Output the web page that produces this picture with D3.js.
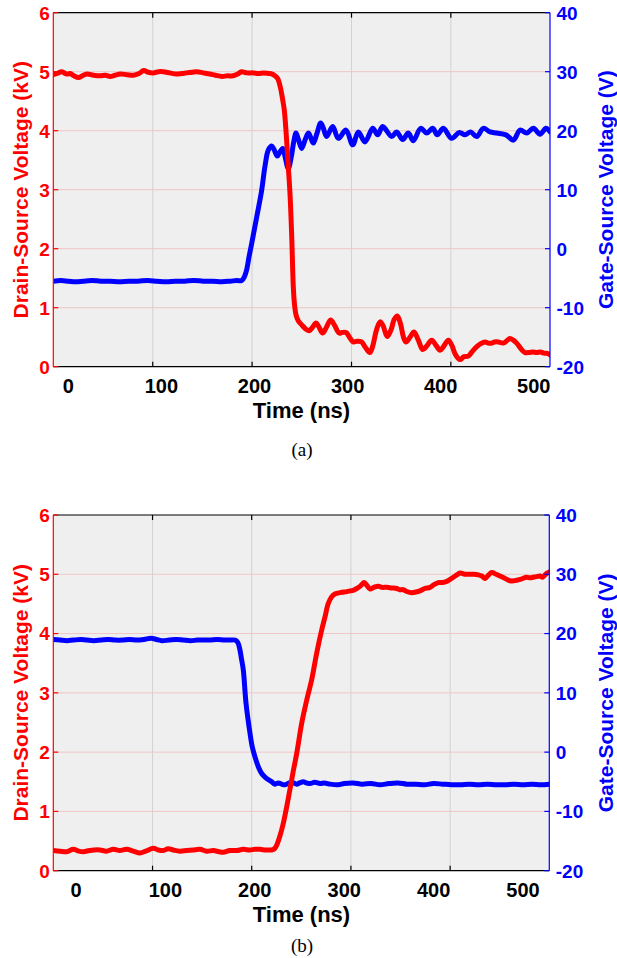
<!DOCTYPE html>
<html>
  <head>
    <meta charset="utf-8">
    <title>switching waveforms</title>
    <script src="https://cdn.jsdelivr.net/npm/d3@7"></script>
    <style>
body { margin: 0; background: #fff; }
svg text { font-family: "Liberation Sans", Arial, sans-serif; font-weight: bold; }
svg text.caption { font-family: "Liberation Serif", "Times New Roman", serif; font-weight: normal; }
.trace { fill: none; stroke-width: 5px; stroke-linejoin: round; stroke-linecap: round; }
    </style>
  </head>
  <body>
    <script>

// tick labels
var timeTicks = [0, 100, 200, 300, 400, 500];
var kvTicks = [0, 1, 2, 3, 4, 5, 6];
var vTicks = [-20, -10, 0, 10, 20, 30, 40];

// vertical grid lines (ns), one set per panel
var gridA = [90.7, 197.4, 304.2, 410.9];
var gridB = [85.6, 196.5, 307.5, 418.5];

// (a) turn-on: drain-source voltage [ns, kV]
var vdsA = [[-16,4.95],[-12,4.97],[-7,5.0],[-2,4.96],[2,4.97],[6,4.93],[11,4.9],[15,4.93],[20,4.96],[27,4.94],
  [34,4.93],[40,4.94],[45,4.92],[50,4.94],[56,4.96],[63,4.95],[70,4.94],[76,4.97],[81,5.02],[86,4.99],
  [91,4.98],[97,5.0],[102,5.0],[109,4.98],[116,4.96],[122,4.97],[127,4.98],[133,4.99],[138,5.0],[145,4.98],
  [152,4.96],[158,4.94],[165,4.92],[171,4.93],[177,4.93],[182,4.96],[186,5.0],[192,4.98],[199,4.98],[204,4.97],
  [210,4.98],[215,4.97],[219,4.96],[222,4.93],[225,4.88],[228,4.72],[230,4.55],[232,4.35],[234,3.96],[236.3,3.39],
  [238.1,2.94],[240,2.2],[241.7,1.35],[243,1.05],[244.6,0.88],[247,0.78],[250.7,0.71],[255,0.64],[258.9,0.61],[262,0.66],
  [266,0.74],[269,0.68],[273.2,0.57],[277,0.66],[281.8,0.79],[286,0.7],[291,0.57],[294,0.58],[298.3,0.58],[302,0.5],
  [306,0.42],[310,0.43],[315,0.42],[319,0.33],[324,0.24],[327,0.35],[331,0.62],[334.8,0.76],[338,0.7],[342.6,0.51],
  [347,0.64],[350,0.8],[353.4,0.86],[357,0.72],[360,0.5],[362.7,0.42],[367,0.5],[371.3,0.59],[376,0.45],[380.7,0.29],
  [385,0.35],[390.3,0.45],[395,0.36],[399.3,0.28],[403,0.34],[408.2,0.45],[412,0.36],[416,0.2],[420.7,0.12],[425,0.17],
  [429.6,0.18],[434,0.26],[438.7,0.34],[443,0.39],[447.6,0.42],[451,0.4],[454.8,0.4],[458,0.42],[461.9,0.42],[467.2,0.4],
  [471,0.44],[474.4,0.48],[478,0.45],[481.6,0.4],[485,0.33],[488,0.27],[490.5,0.24],[495,0.24],[499,0.25],[503.1,0.24],
  [507,0.25],[511,0.23],[515.6,0.22],[517.4,0.2]];

// (a) turn-on: gate-source voltage [ns, V]
var vgsA = [[-16,-5.5],[-8,-5.4],[0,-5.5],[8,-5.6],[16,-5.5],[25,-5.4],[35,-5.5],[45,-5.5],[55,-5.6],[65,-5.5],
  [75,-5.5],[85,-5.4],[95,-5.5],[105,-5.6],[115,-5.5],[125,-5.5],[135,-5.4],[145,-5.5],[155,-5.5],[165,-5.6],
  [174,-5.5],[181,-5.4],[186.3,-5.4],[189,-4.8],[191.6,-3.6],[194,-1.5],[197,0.9],[202.4,5.4],[207.7,9.9],[211.2,13.9],
  [214.8,16.7],[218.5,17.4],[221,16.8],[224.5,15.7],[227,16.3],[230.3,17.0],[233,15.5],[236.3,13.6],[239.9,15.9],[242,18],
  [244.6,19.6],[247,18.6],[250.7,17.0],[254,18.3],[257.8,19.6],[260,19],[263.2,17.9],[267,19.5],[271.1,21.3],[274,20.4],
  [277.5,19.0],[284,20.7],[290,18.7],[298.3,20.1],[305.5,17.6],[311.5,19.8],[318.7,18.1],[327,20.4],[332.3,19.3],[337.7,20.7],
  [347.4,19.0],[352.7,19.8],[359.2,18.5],[365.2,19.6],[370.6,18.3],[378.5,20.4],[385,19.6],[391.4,20.4],[396.4,19.3],[402.8,20.4],
  [411.8,18.7],[420,19.7],[426.1,19.3],[432.2,19.8],[438.7,19.0],[445.8,20.4],[453,19.8],[460.2,19.6],[470.1,19.3],[478,18.4],
  [485.2,20.1],[492.4,19.6],[499.5,20.4],[506.7,19.4],[513.1,20.4],[517.4,19.8]];

// (b) turn-off: drain-source voltage [ns, kV]
var vdsB = [[-25.4,0.34],[-18,0.33],[-10.4,0.32],[-3,0.36],[3,0.33],[8.2,0.32],[15,0.34],[20,0.35],[26.8,0.35],[34,0.33],
  [41.7,0.36],[49,0.34],[56.7,0.36],[64,0.33],[71.6,0.3],[78,0.33],[86.5,0.38],[92,0.35],[97.7,0.34],[103,0.37],
  [108.8,0.35],[116,0.33],[123.8,0.34],[131,0.35],[138.7,0.36],[146,0.33],[153.6,0.34],[160,0.32],[164.8,0.31],[172,0.34],
  [179.8,0.34],[187,0.36],[194.6,0.35],[200,0.36],[205.8,0.36],[212,0.35],[218.9,0.35],[222,0.37],[224.5,0.43],[228,0.58],
  [231.9,0.8],[235.7,1.08],[239.4,1.38],[243,1.68],[246.9,1.98],[252.5,2.49],[258.1,2.88],[263.6,3.22],[269.2,3.67],[274.8,4.06],
  [278.5,4.28],[282,4.5],[286,4.62],[290,4.67],[295.3,4.69],[300,4.7],[306.5,4.72],[310,4.73],[314,4.76],[318,4.8],
  [322.1,4.86],[325,4.82],[328.9,4.75],[333,4.78],[338.1,4.8],[342,4.78],[347.5,4.78],[353,4.77],[358.7,4.76],[362,4.74],
  [366.1,4.74],[370,4.71],[375.5,4.69],[380,4.7],[384.8,4.72],[390,4.76],[396,4.78],[400,4.82],[405.3,4.86],[410,4.86],
  [414.6,4.88],[418,4.91],[422.1,4.95],[426,4.99],[429.5,5.02],[435,5.0],[440.7,5.0],[445,5.0],[450,4.99],[454,4.97],
  [457.5,4.93],[461,4.98],[465,5.03],[470,5.0],[474.3,4.97],[480,4.93],[485.5,4.89],[490,4.89],[493,4.9],[498,4.92],
  [504.1,4.95],[508,4.94],[511.5,4.95],[515,4.96],[519,4.97],[522,4.95],[524.6,4.99],[527,5.02],[529.4,5.04]];

// (b) turn-off: gate-source voltage [ns, V]
var vgsB = [[-25.4,19.0],[-18,18.9],[-10,18.8],[-3,18.9],[5,19.0],[12,18.9],[20,18.8],[28,18.9],[36,19.0],[44,18.9],
  [52,18.9],[60,19.0],[68,18.9],[76,19.0],[84,19.2],[90,19.0],[96,18.8],[104,18.9],[112,19.0],[120,18.9],
  [128,18.8],[136,18.9],[144,18.9],[150,18.9],[158,19.0],[166,18.9],[172,18.9],[178,18.9],[181,18.5],[183.4,17.2],
  [185,15.8],[187.1,13.9],[190.2,8.2],[194.6,3.2],[197,1.0],[200.2,-0.8],[204,-2.5],[207.7,-3.6],[212,-4.3],[218.9,-5.0],
  [222,-5.4],[226.3,-5.2],[230,-5.4],[233.8,-5.5],[237,-5.3],[241.3,-5.1],[246.9,-5.4],[250,-5.2],[254.3,-5.0],[258,-5.2],
  [261.7,-5.3],[267,-5.1],[272.9,-5.3],[278,-5.2],[284.1,-5.4],[293.4,-5.5],[300,-5.3],[310,-5.2],[320,-5.4],[330,-5.3],
  [340,-5.5],[350,-5.3],[360,-5.2],[370,-5.4],[380,-5.4],[390,-5.5],[400,-5.3],[410,-5.4],[420,-5.5],[430,-5.5],
  [440,-5.4],[450,-5.5],[460,-5.4],[470,-5.5],[480,-5.5],[490,-5.4],[500,-5.5],[510,-5.4],[520,-5.5],[529.4,-5.4]];

var width = 617,
    height = 958;

var svg = d3.select("body").append("svg")
    .attr("width", width)
    .attr("height", height);

var panels = [
  {id: "a", left: 53.3, right: 550, top: 12.7, bottom: 366.7, xDomain: [-16.1, 517.4], grid: gridA, vds: vdsA, vgs: vgsA, caption: "(a)", capY: 456},
  {id: "b", left: 53.3, right: 549.3, top: 515, bottom: 870.7, xDomain: [-25.4, 529.4], grid: gridB, vds: vdsB, vgs: vgsB, caption: "(b)", capY: 951.7}
];

panels.forEach(function(p) {
  var x = d3.scaleLinear().domain(p.xDomain).range([p.left, p.right]);
  var yL = d3.scaleLinear().domain([0, 6]).range([p.bottom, p.top]);
  var yR = d3.scaleLinear().domain([-20, 40]).range([p.bottom, p.top]);
  var g = svg.append("g");

  g.append("rect")
      .attr("x", p.left).attr("y", p.top)
      .attr("width", p.right - p.left).attr("height", p.bottom - p.top)
      .attr("fill", "#efefef");

  // grid
  g.selectAll(".hgrid").data(kvTicks.slice(1, -1)).enter().append("line")
      .attr("x1", p.left).attr("x2", p.right)
      .attr("y1", function(d) { return yL(d); }).attr("y2", function(d) { return yL(d); })
      .attr("stroke", "#f0c6c6").attr("stroke-width", 1);
  g.selectAll(".vgrid").data(p.grid).enter().append("line")
      .attr("x1", function(d) { return x(d); }).attr("x2", function(d) { return x(d); })
      .attr("y1", p.top).attr("y2", p.bottom)
      .attr("stroke", "#d2d2d2").attr("stroke-width", 1);

  // traces
  g.append("clipPath").attr("id", "clip-" + p.id).append("rect")
      .attr("x", p.left).attr("y", p.top - 3)
      .attr("width", p.right - p.left).attr("height", p.bottom - p.top + 6);

  var lineR = d3.line().curve(d3.curveCatmullRom.alpha(0.5))
      .x(function(d) { return x(d[0]); }).y(function(d) { return yL(d[1]); });
  var lineB = d3.line().curve(d3.curveCatmullRom.alpha(0.5))
      .x(function(d) { return x(d[0]); }).y(function(d) { return yR(d[1]); });

  var traces = g.append("g").attr("clip-path", "url(#clip-" + p.id + ")");
  traces.append("path").attr("class", "trace").attr("stroke", "#0000ff").attr("d", lineB(p.vgs));
  traces.append("path").attr("class", "trace").attr("stroke", "#ff0000").attr("d", lineR(p.vds));

  // frame
  g.append("line").attr("x1", p.left).attr("x2", p.right).attr("y1", p.top).attr("y2", p.top)
      .attr("stroke", "#000").attr("stroke-width", 1.2);
  g.append("line").attr("x1", p.left).attr("x2", p.right).attr("y1", p.bottom).attr("y2", p.bottom)
      .attr("stroke", "#000").attr("stroke-width", 1.2);
  g.append("line").attr("x1", p.left).attr("x2", p.left).attr("y1", p.top).attr("y2", p.bottom)
      .attr("stroke", "#ff0000").attr("stroke-width", 1.2);
  g.append("line").attr("x1", p.right).attr("x2", p.right).attr("y1", p.top).attr("y2", p.bottom)
      .attr("stroke", "#0000ff").attr("stroke-width", 1.2);

  // inward tick marks
  p.grid.forEach(function(d) {
    g.append("line").attr("x1", x(d)).attr("x2", x(d)).attr("y1", p.top).attr("y2", p.top + 5)
        .attr("stroke", "#000").attr("stroke-width", 1.2);
    g.append("line").attr("x1", x(d)).attr("x2", x(d)).attr("y1", p.bottom).attr("y2", p.bottom - 5)
        .attr("stroke", "#000").attr("stroke-width", 1.2);
  });
  kvTicks.forEach(function(d) {
    g.append("line").attr("x1", p.left).attr("x2", p.left + 5).attr("y1", yL(d)).attr("y2", yL(d))
        .attr("stroke", "#ff0000").attr("stroke-width", 1.2);
  });
  vTicks.forEach(function(d) {
    g.append("line").attr("x1", p.right).attr("x2", p.right - 5).attr("y1", yR(d)).attr("y2", yR(d))
        .attr("stroke", "#0000ff").attr("stroke-width", 1.2);
  });

  // tick labels
  g.selectAll(".xt").data(timeTicks).enter().append("text")
      .attr("x", function(d) { return x(d); }).attr("y", p.bottom + 26.5)
      .attr("text-anchor", "middle").attr("font-size", 20).attr("fill", "#000")
      .text(function(d) { return d; });
  g.selectAll(".yl").data(kvTicks).enter().append("text")
      .attr("x", p.left - 3.5).attr("y", function(d) { return yL(d); }).attr("dy", "0.36em")
      .attr("text-anchor", "end").attr("font-size", 19).attr("fill", "#ff0000")
      .text(function(d) { return d; });
  g.selectAll(".yr").data(vTicks).enter().append("text")
      .attr("x", p.right + 6.5).attr("y", function(d) { return yR(d); }).attr("dy", "0.36em")
      .attr("text-anchor", "start").attr("font-size", 19).attr("fill", "#0000ff")
      .text(function(d) { return d; });

  // axis titles
  var midY = (p.top + p.bottom) / 2;
  g.append("text").attr("x", 301.5).attr("y", p.bottom + 51.5)
      .attr("text-anchor", "middle").attr("font-size", 22).attr("fill", "#000")
      .text("Time (ns)");
  g.append("text").attr("transform", "translate(20," + midY + ") rotate(-90)")
      .attr("dy", "0.36em").attr("text-anchor", "middle").attr("font-size", 21).attr("fill", "#ff0000")
      .text("Drain-Source Voltage (kV)");
  g.append("text").attr("transform", "translate(605," + midY + ") rotate(-90)")
      .attr("dy", "0.36em").attr("text-anchor", "middle").attr("font-size", 21).attr("fill", "#0000ff")
      .text("Gate-Source Voltage (V)");

  g.append("text").attr("class", "caption").attr("x", 302).attr("y", p.capY)
      .attr("text-anchor", "middle").attr("font-size", 19).attr("fill", "#000")
      .text(p.caption);
});

</script>
  </body>
</html>
